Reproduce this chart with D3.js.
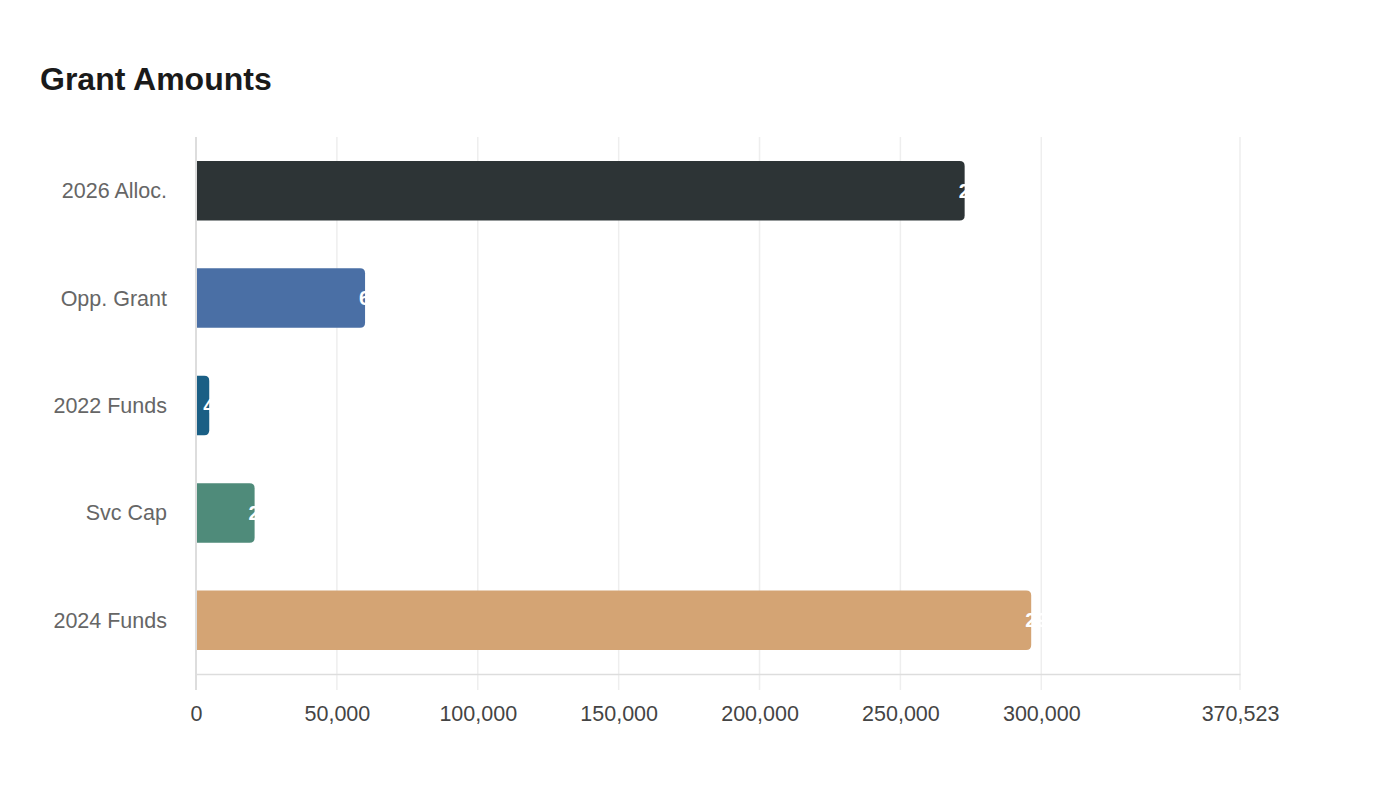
<!DOCTYPE html>
<html>
<head>
<meta charset="utf-8">
<script src="https://cdn.jsdelivr.net/npm/d3@7"></script>
<style>
  body { margin: 0; background: #fff; font-family: "Liberation Sans", Arial, sans-serif; }
</style>
</head>
<body>
<div id="chart"></div>
<script>
const categories = ["2026 Alloc.", "Opp. Grant", "2022 Funds", "Svc Cap", "2024 Funds"];
const values = [272800, 60000, 4700, 20800, 296418];
const colors = ["#2d3436", "#4a6fa5", "#1a5f85", "#4f8b7a", "#d4a474"];
const tickValues = [0, 50000, 100000, 150000, 200000, 250000, 300000, 370523];

const width = 1400, height = 800;
const margin = { top: 137, right: 160, bottom: 126, left: 196 };

const svg = d3.select("#chart")
  .append("svg")
  .attr("width", width)
  .attr("height", height);

svg.append("text")
  .attr("x", 40)
  .attr("y", 90)
  .style("font-size", "32px")
  .style("font-weight", "bold")
  .style("fill", "#1a1a1a")
  .text("Grant Amounts");

const x = d3.scaleLinear()
  .domain([0, 370523])
  .range([margin.left, width - margin.right]);

const y = d3.scaleBand()
  .domain(categories)
  .range([margin.top, height - margin.bottom])
  .paddingInner(0.446)
  .paddingOuter(0.223);

const plotBottom = height - margin.bottom;

// grid lines
svg.append("g")
  .selectAll("line")
  .data(tickValues.slice(1))
  .enter()
  .append("line")
  .attr("x1", (d) => x(d))
  .attr("x2", (d) => x(d))
  .attr("y1", margin.top)
  .attr("y2", plotBottom + 16)
  .style("stroke", "#eeeeee")
  .style("stroke-width", 1.5);

// x axis
const xAxis = svg.append("g")
  .attr("transform", `translate(0, ${plotBottom})`)
  .call(d3.axisBottom(x).tickValues(tickValues).tickFormat(d3.format(",")).tickSize(0).tickPadding(32));
xAxis.select(".domain").style("stroke", "#dddddd").style("stroke-width", 1.5);
xAxis.selectAll("text")
  .style("font-family", "'Liberation Sans', Arial, sans-serif")
  .style("font-size", "21.5px")
  .style("fill", "#444");

// y axis line
svg.append("line")
  .attr("x1", x(0))
  .attr("x2", x(0))
  .attr("y1", margin.top)
  .attr("y2", plotBottom + 16)
  .style("stroke", "#dddddd")
  .style("stroke-width", 2);

// category labels
svg.append("g")
  .selectAll("text")
  .data(categories)
  .enter()
  .append("text")
  .attr("x", 167)
  .attr("y", (d) => y(d) + y.bandwidth() / 2)
  .attr("dy", "0.35em")
  .attr("text-anchor", "end")
  .style("font-size", "21.5px")
  .style("fill", "#666")
  .text((d) => d);

// bars, rounded on the right end
const r = 5;
function barPath(i) {
  const x0 = x(0) + 1, x1 = x(values[i]);
  const y0 = y(categories[i]), h = y.bandwidth();
  const rr = Math.min(r, (x1 - x0) / 2);
  return `M${x0},${y0}H${x1 - rr}Q${x1},${y0} ${x1},${y0 + rr}V${y0 + h - rr}Q${x1},${y0 + h} ${x1 - rr},${y0 + h}H${x0}Z`;
}

svg.append("g")
  .selectAll("path")
  .data(values)
  .enter()
  .append("path")
  .attr("d", (_, i) => barPath(i))
  .style("fill", (_, i) => colors[i]);

// value labels (white, mostly outside the bar)
svg.append("g")
  .selectAll("text")
  .data(values)
  .enter()
  .append("text")
  .attr("x", (d) => x(d) - 6)
  .attr("y", (_, i) => y(categories[i]) + y.bandwidth() / 2)
  .attr("dy", "0.35em")
  .style("font-size", "20px")
  .style("font-weight", "bold")
  .style("fill", "#fff")
  .text((d) => d3.format(",")(d));
</script>
</body>
</html>
